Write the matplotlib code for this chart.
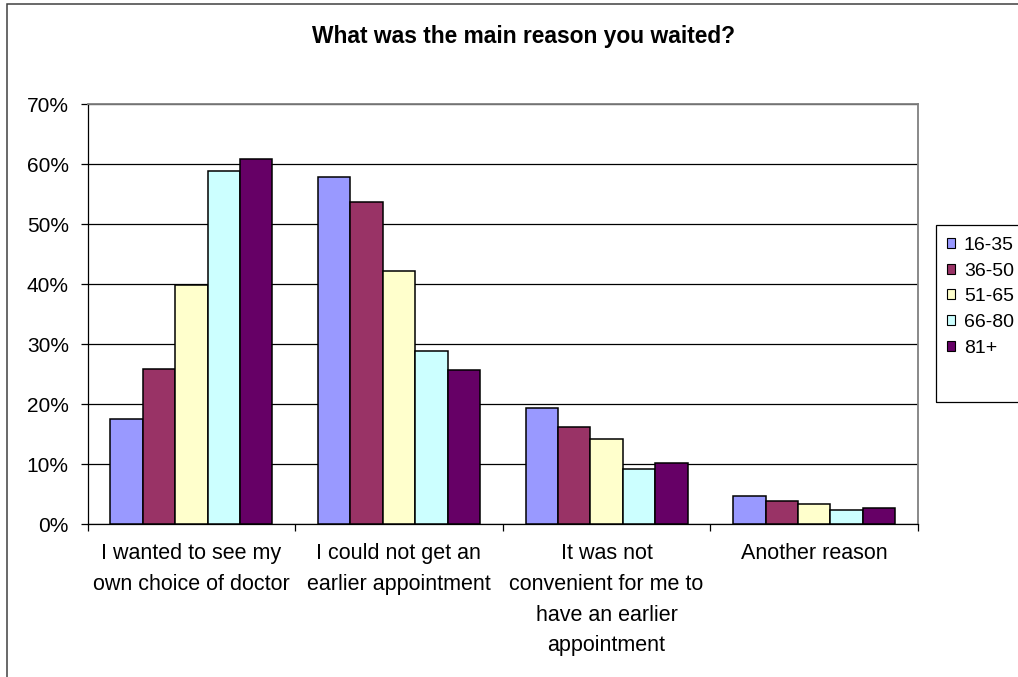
import numpy as np
import matplotlib
matplotlib.use("Agg")
import matplotlib.pyplot as plt
from matplotlib.patches import Rectangle, Patch
from matplotlib.ticker import FixedLocator, FuncFormatter

plt.rcParams["font.family"] = ["Liberation Sans", "DejaVu Sans"]

# Survey answers, share of respondents per age band
categories = [
    "I wanted to see my\nown choice of doctor",
    "I could not get an\nearlier appointment",
    "It was not\nconvenient for me to\nhave an earlier\nappointment",
    "Another reason",
]
age_groups = ["16-35", "36-50", "51-65", "66-80", "81+"]
share_16_35 = [17.5, 57.9, 19.4, 4.7]
share_36_50 = [25.8, 53.6, 16.1, 3.8]
share_51_65 = [39.8, 42.2, 14.2, 3.3]
share_66_80 = [58.9, 28.9, 9.1, 2.4]
share_81_up = [60.9, 25.6, 10.2, 2.7]
series = [share_16_35, share_36_50, share_51_65, share_66_80, share_81_up]
colors = ["#9999FF", "#993366", "#FFFFCC", "#CCFFFF", "#660066"]
yticks = [0, 10, 20, 30, 40, 50, 60, 70]

W, H = 1018, 677
fig = plt.figure(figsize=(W / 100, H / 100), dpi=100)
fig.patch.set_facecolor("white")

# outer chart frame (runs off the right and bottom edges)
fig.add_artist(Rectangle((7 / W, -0.05), 1.2, 1 - 4 / H + 0.05,
                         transform=fig.transFigure, fill=False,
                         edgecolor="#404040", linewidth=1.1))

ax = fig.add_axes([87.5 / W, 1 - 524 / H, (918 - 87.5) / W, (524 - 104) / H])

x = np.arange(len(categories))
bar_w = 0.156
for i, (vals, col) in enumerate(zip(series, colors)):
    offs = (i - 2) * bar_w
    ax.bar(x + offs, vals, width=bar_w, color=col, edgecolor="black",
           linewidth=1.1, zorder=3)

ax.set_xlim(-0.5, len(categories) - 0.5)
ax.set_ylim(0, 70)
ax.yaxis.set_major_locator(FixedLocator(yticks))
ax.yaxis.set_major_formatter(FuncFormatter(lambda v, p: f"{v:.0f}%"))
ax.grid(axis="y", color="black", linewidth=0.9, zorder=0)

ax.set_xticks(x)
ax.set_xticklabels(categories, fontsize=15.5, linespacing=1.6, va="top")
ax.xaxis.set_minor_locator(FixedLocator(np.arange(-0.5, len(categories), 1.0)))
ax.tick_params(axis="x", which="major", length=0, pad=14)
ax.tick_params(axis="x", which="minor", length=5, width=0.9, direction="out")
ax.tick_params(axis="y", length=5, width=0.9, direction="out", pad=8.5,
               labelsize=15)

for side in ("top", "right"):
    ax.spines[side].set_color("#808080")
    ax.spines[side].set_linewidth(1.3)
for side in ("left", "bottom"):
    ax.spines[side].set_color("black")
    ax.spines[side].set_linewidth(0.9)

fig.text(523 / W, 1 - 37 / H, "What was the main reason you waited?",
         ha="center", va="center", fontsize=16.4, fontweight="bold")

# legend box
fig.add_artist(Rectangle((936 / W, 1 - 402 / H), 0.2, (402 - 225) / H,
                         transform=fig.transFigure, fill=False,
                         edgecolor="black", linewidth=0.9))
handles = [Patch(facecolor=c, edgecolor="black", linewidth=0.8) for c in colors]
fig.legend(handles, age_groups, loc="upper left",
           bbox_to_anchor=(947 / W, 1 - 237 / H), frameon=False,
           fontsize=14, handlelength=0.42, handleheight=0.42,
           handletextpad=0.45, labelspacing=0.445, borderpad=0,
           borderaxespad=0)

fig.savefig("out.png", dpi=100)
